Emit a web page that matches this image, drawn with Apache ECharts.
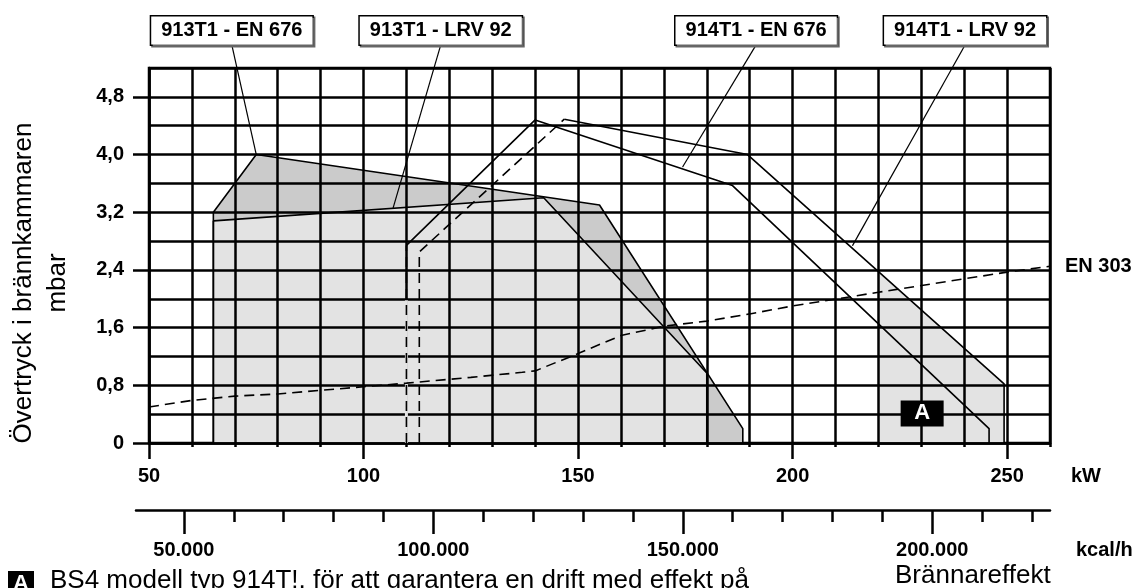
<!DOCTYPE html>
<html>
<head>
<meta charset="utf-8">
<title>BS4 arbetsområde</title>
<script src="https://cdn.jsdelivr.net/npm/echarts@6/dist/echarts.min.js"></script>
<style>
  body { margin: 0; background: #fff; }
  #main { width: 1141px; height: 588px; }
</style>
</head>
<body>
<div id="main"></div>
<script type="text/javascript">
// tick labels
const kwLabels = [50, 100, 150, 200, 250];
const pressureLabels = [0, 0.8, 1.6, 2.4, 3.2, 4.0, 4.8];
const kcalMajor = [50000, 100000, 150000, 200000];
const kcalMinor = [50000, 60000, 70000, 80000, 90000, 100000, 110000, 120000, 130000, 140000,
                   150000, 160000, 170000, 180000, 190000, 200000, 210000, 220000];

// 913T1 working fields [kW, mbar]
const field913EN676 = [[65, 0], [65, 3.2], [75, 4.0], [155, 3.3], [188.4, 0.2], [188.4, 0]];
const field913LRV92 = [[65, 0], [65, 3.08], [142, 3.4], [180, 0.97], [180, 0]];

// 914T1 curves
const start914EN676 = [[110, 0], [110, 2.74]];
const curve914EN676 = [[110, 2.74], [140, 4.48], [186, 3.57], [245.8, 0.2], [245.8, 0]];
const start914LRV92 = [[113, 0], [113, 2.65], [146.8, 4.49]];
const curve914LRV92 = [[146.8, 4.49], [189.5, 4.0], [249.3, 0.82], [249.3, 0]];
const fieldA = [[220, 0], [220, 2.37], [249.3, 0.82], [249.3, 0]];

// EN 303 limit curve
const en303 = [[50, 0.5], [60, 0.59], [70, 0.65], [80, 0.68], [90, 0.73], [100, 0.78], [110, 0.83],
               [125, 0.91], [137, 0.98], [140, 1.0], [150, 1.24], [160, 1.49], [170, 1.62],
               [180, 1.69], [190, 1.79], [200, 1.9], [220, 2.09], [250, 2.37], [260, 2.45]];

// callout boxes: text, box anchor, curve point
const callouts = [
    ['913T1 - EN 676', [69.3, 5.52], [75, 4.0]],
    ['913T1 - LRV 92', [118, 5.52], [106.9, 3.26]],
    ['914T1 - EN 676', [191.5, 5.52], [174.4, 3.83]],
    ['914T1 - LRV 92', [240.2, 5.52], [214, 2.74]]
];
const markA = [230.2, 0.41];

const FONT = "'Liberation Sans', Arial, sans-serif";
const LIGHT = '#e3e3e3';
const DARK = '#cbcbcb';

function area(data, color, outline) {
    return {
        type: 'line', data: data, z: 1, symbol: 'none', silent: true,
        lineStyle: { color: '#000', width: outline ? 1.6 : 0, opacity: outline ? 1 : 0 },
        areaStyle: { color: color, opacity: 1 }
    };
}
function curve(data, dashed, z) {
    return {
        type: 'line', data: data, z: z || 5, symbol: 'none', silent: true,
        lineStyle: { color: '#000', width: 1.6, type: dashed ? [10, 6] : 'solid' }
    };
}

let series = [
    area(field913EN676, DARK, true),
    area(field913LRV92, LIGHT, true),
    area(fieldA, LIGHT, false),
    // the 110 kW grid line is hidden under the dashed start line
    { type: 'line', data: [[110, 0], [110, 1.98]], z: 4, symbol: 'none', silent: true,
      lineStyle: { color: LIGHT, width: 3 } },
    curve(start914EN676, true),
    curve(curve914EN676, false),
    curve(start914LRV92, true),
    curve(curve914LRV92, false),
    {
        type: 'line', data: en303, z: 5, symbol: 'none', silent: true,
        lineStyle: { color: '#000', width: 1.6, type: [10, 6] },
        endLabel: { show: true, formatter: 'EN 303', distance: 15, color: '#000',
                    fontFamily: FONT, fontWeight: 'bold', fontSize: 20 }
    },
    {
        type: 'scatter', data: [markA], z: 6, silent: true, symbol: 'rect', symbolSize: [43, 26],
        itemStyle: { color: '#000', opacity: 1 },
        label: { show: true, position: 'inside', formatter: 'A', color: '#fff',
                 fontFamily: FONT, fontWeight: 'bold', fontSize: 22 }
    }
];

callouts.forEach(c => {
    series.push({
        type: 'line', z: 6, clip: false, silent: true, symbol: 'circle', symbolSize: 1,
        itemStyle: { color: '#000' },
        lineStyle: { color: '#000', width: 1.2 },
        data: [
            { value: c[1], label: {
                show: true, position: 'top', distance: 0, formatter: c[0],
                color: '#000', fontFamily: FONT, fontWeight: 'bold', fontSize: 20, lineHeight: 20,
                backgroundColor: '#fff', borderColor: '#000', borderWidth: 1.5,
                padding: [4, 10, 4, 10],
                shadowColor: '#666', shadowOffsetX: 1.5, shadowOffsetY: 1.5, shadowBlur: 0
            } },
            c[2]
        ]
    });
});

const boldLabel = { color: '#000', fontFamily: FONT, fontWeight: 'bold', fontSize: 20 };
const black = { color: '#000', width: 2.5 };

const chart = echarts.init(document.getElementById('main'));
chart.setOption({
    animation: false,
    backgroundColor: '#fff',
    grid: [
        { left: 149, right: 91, top: 68, bottom: 145, show: true, borderColor: '#000', borderWidth: 2.5 },
        { left: 136, right: 91, top: 500, bottom: 78 }
    ],
    xAxis: [
        {
            gridIndex: 0, type: 'value', min: 50, max: 260, interval: 10, z: 3,
            axisLine: { show: true, lineStyle: black },
            axisTick: { show: true, length: 4, lineStyle: black },
            axisLabel: { show: false },
            splitLine: { show: true, lineStyle: black }
        },
        {
            gridIndex: 0, type: 'value', min: 50, max: 260, position: 'bottom', z: 3,
            axisLine: { show: false },
            axisTick: { show: true, length: 16, customValues: kwLabels, lineStyle: black },
            axisLabel: Object.assign({ show: true, customValues: kwLabels, margin: 23 }, boldLabel),
            splitLine: { show: false }
        },
        {
            gridIndex: 1, type: 'value', min: 40400, max: 223600, position: 'bottom',
            axisLine: { show: true, lineStyle: black },
            axisTick: { show: true, length: 12, customValues: kcalMinor, lineStyle: black },
            axisLabel: { show: false },
            splitLine: { show: false }
        },
        {
            gridIndex: 1, type: 'value', min: 40400, max: 223600, position: 'bottom',
            axisLine: { show: false },
            axisTick: { show: true, length: 24, customValues: kcalMajor, lineStyle: black },
            axisLabel: Object.assign({
                show: true, customValues: kcalMajor, margin: 30,
                formatter: v => (v / 1000).toFixed(0) + '.000'
            }, boldLabel),
            splitLine: { show: false }
        }
    ],
    yAxis: [
        {
            gridIndex: 0, type: 'value', min: 0, max: 5.2, interval: 0.4, z: 3,
            axisLine: { show: true, lineStyle: black },
            axisTick: { show: false },
            axisLabel: { show: false },
            splitLine: { show: true, lineStyle: black }
        },
        {
            gridIndex: 0, type: 'value', min: 0, max: 5.2, position: 'left', z: 3,
            axisLine: { show: false },
            axisTick: { show: true, length: 16, customValues: pressureLabels, lineStyle: black },
            axisLabel: Object.assign({
                show: true, customValues: pressureLabels, margin: 25,
                formatter: v => v === 0 ? '0' : v.toFixed(1).replace('.', ',')
            }, boldLabel),
            splitLine: { show: false }
        },
        { gridIndex: 1, type: 'value', min: 0, max: 1, show: false }
    ],
    graphic: [
        { type: 'text', x: 41, y: 283, rotation: Math.PI / 2,
          style: { text: 'Övertryck i brännkammaren\nmbar', fill: '#000', font: '26px ' + FONT,
                   align: 'center', verticalAlign: 'middle', lineHeight: 34 } },
        { type: 'text', x: 1071, y: 476,
          style: { text: 'kW', fill: '#000', font: 'bold 20px ' + FONT, verticalAlign: 'middle' } },
        { type: 'text', x: 1076, y: 550,
          style: { text: 'kcal/h', fill: '#000', font: 'bold 20px ' + FONT, verticalAlign: 'middle' } },
        { type: 'text', x: 895, y: 576,
          style: { text: 'Brännareffekt', fill: '#000', font: '26px ' + FONT, verticalAlign: 'middle' } },
        { type: 'rect', shape: { x: 8, y: 571, width: 26, height: 26 }, style: { fill: '#000' } },
        { type: 'text', x: 21, y: 584,
          style: { text: 'A', fill: '#fff', font: 'bold 22px ' + FONT, align: 'center', verticalAlign: 'middle' } },
        { type: 'text', x: 50, y: 581,
          style: { text: 'BS4 modell typ 914T!, för att garantera en drift med effekt på', fill: '#000',
                   font: '26px ' + FONT, verticalAlign: 'middle' } }
    ],
    series: series
});
</script>
</body>
</html>
